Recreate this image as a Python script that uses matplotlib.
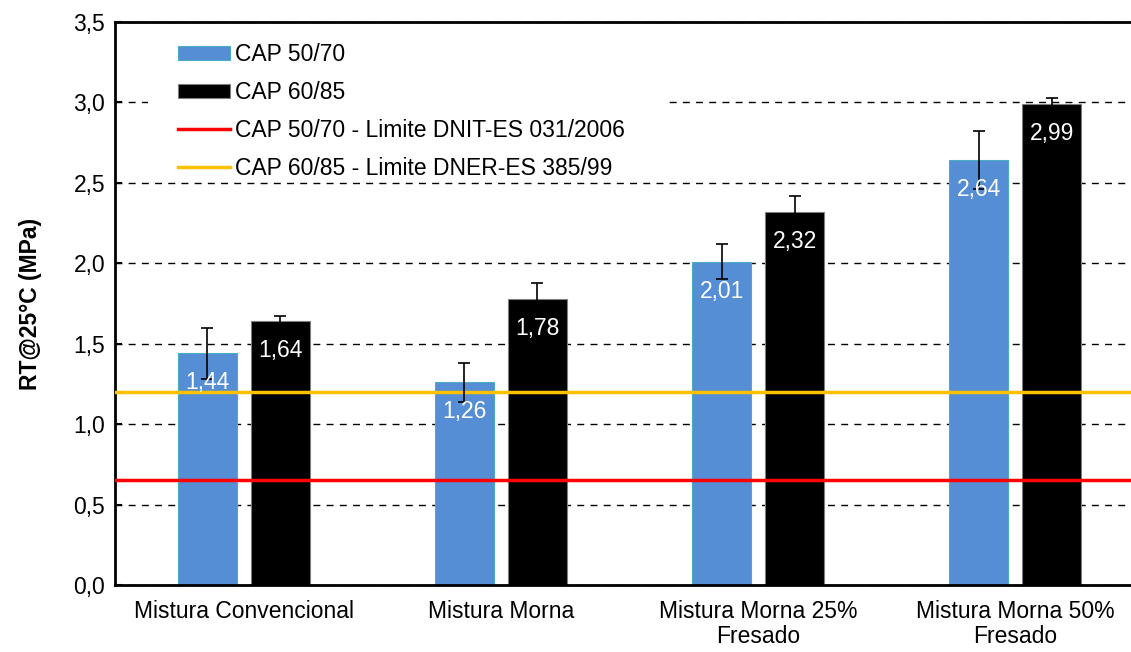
import numpy as np
import matplotlib
matplotlib.use('Agg')
import matplotlib.pyplot as plt
from matplotlib.ticker import FuncFormatter
from matplotlib.patches import Rectangle

plt.rcParams['font.family'] = ['Liberation Sans', 'DejaVu Sans']

# -- data -- #
categories = ['Mistura Convencional', 'Mistura Morna',
              'Mistura Morna 25%\nFresado', 'Mistura Morna 50%\nFresado']
cap5070 = [1.44, 1.26, 2.01, 2.64]
cap6085 = [1.64, 1.78, 2.32, 2.99]
err5070 = [0.16, 0.12, 0.11, 0.18]
err6085 = [0.03, 0.10, 0.10, 0.04]
lim_dnit = 0.65   # CAP 50/70 - DNIT-ES 031/2006
lim_dner = 1.20   # CAP 60/85 - DNER-ES 385/99

blue = '#558ED5'
red = '#FF0000'
yellow = '#FFC000'
fs = 16.5

fig = plt.figure(figsize=(11.31, 6.52), dpi=100)
# the right edge of the axes runs past the picture, as in the original
ax = fig.add_axes([115/1131, 1-585/652, (1144-115)/1131, (585-22)/652])

x = np.arange(len(categories))
w = 0.23
off = 0.142

b1 = ax.bar(x-off, cap5070, w, color=blue, edgecolor='#4BACC6', lw=0.8, zorder=2,
            label='CAP 50/70')
b2 = ax.bar(x+off, cap6085, w, color='black', edgecolor='#7F7F7F', lw=0.8, zorder=2,
            label='CAP 60/85')
ax.errorbar(x-off, cap5070, yerr=err5070, fmt='none', ecolor='black', elinewidth=1.2,
            capsize=4.3, capthick=1.2, zorder=4)
ax.errorbar(x+off, cap6085, yerr=err6085, fmt='none', ecolor='black', elinewidth=1.2,
            capsize=4.3, capthick=1.2, zorder=4)

l1 = ax.axhline(lim_dnit, color=red, lw=2.5, zorder=3, label='CAP 50/70 - Limite DNIT-ES 031/2006')
l2 = ax.axhline(lim_dner, color=yellow, lw=2.5, zorder=3, label='CAP 60/85 - Limite DNER-ES 385/99')

# data labels, white, inside end of the bars
for xs, vals in ((x-off, cap5070), (x+off, cap6085)):
    for xi, v in zip(xs, vals):
        ax.annotate(('%.2f' % v).replace('.', ','), (xi, v), xytext=(0, -13),
                    textcoords='offset points', ha='center', va='top',
                    color='white', fontsize=fs, zorder=5)

ax.set_xlim(-0.5, len(categories)-0.5)
ax.set_ylim(0, 3.5)
ax.set_yticks(np.arange(0, 3.51, 0.5))
ax.yaxis.set_major_formatter(FuncFormatter(lambda v, p: ('%.1f' % v).replace('.', ',')))
ax.set_xticks(x)
ax.set_xticklabels(categories, fontsize=fs, linespacing=1.08)
ax.tick_params(axis='x', length=0, pad=11)
ax.tick_params(axis='y', direction='in', length=5, width=1.5, labelsize=fs, pad=7)

ax.yaxis.grid(True, color='black', ls=(0, (5, 4.5)), lw=1.0, zorder=0)
ax.set_axisbelow(True)
for s in ('left', 'bottom', 'top'):
    ax.spines[s].set_linewidth(2)
ax.spines['right'].set_visible(False)

ax.set_ylabel('RT@25°C (MPa)', fontsize=fs, fontweight='bold', labelpad=23)

# white legend area hiding the grid behind it
ax.add_patch(Rectangle((0.032, 0.72), 0.505, 0.265, transform=ax.transAxes,
                       facecolor='white', edgecolor='none', zorder=1))
leg = ax.legend([b1, b2, l1, l2], [b1.get_label(), b2.get_label(), l1.get_label(), l2.get_label()],
                loc='upper left', bbox_to_anchor=(0.0612, (585-43)/563), fontsize=fs,
                frameon=False, handlelength=2.26, handleheight=0.57, handletextpad=0.25,
                labelspacing=0.65, borderpad=0, borderaxespad=0)
leg.set_zorder(6)

fig.savefig('out.png', dpi=100)
